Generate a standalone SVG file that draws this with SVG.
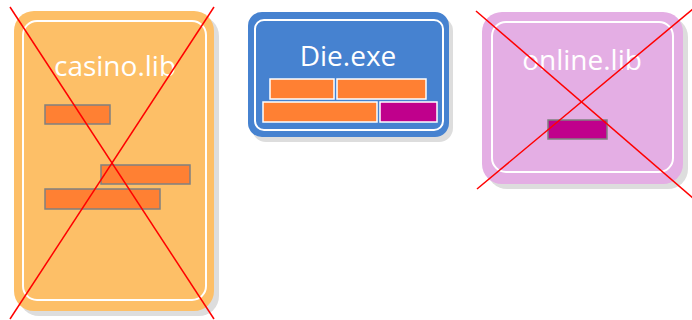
<svg xmlns="http://www.w3.org/2000/svg" width="692" height="320" viewBox="0 0 692 320">
<style>
.shadow{fill:#dddddd}
.inner{fill:none;stroke:#ffffff;stroke-width:2}
.title{font-family:"Open Sans",sans-serif;font-size:28px;font-weight:400;fill:#ffffff;text-anchor:middle}
.bar{fill:#ff8033;stroke:#808080;stroke-width:1.5}
.bar-w{fill:#ff8033;stroke:#ffffff;stroke-width:1.5}
.mag{fill:#c0008c;stroke:#808080;stroke-width:1.5}
.mag-w{fill:#c0008c;stroke:#ffffff;stroke-width:1.5}
.cross{stroke:#ff0000;stroke-width:1.5;fill:none}
</style>
<g id="casino">
<rect class="shadow" x="19" y="16" width="200" height="300" rx="20"/>
<rect x="14" y="11" width="200" height="300" rx="20" fill="#fdbf67"/>
<rect class="inner" x="23" y="21" width="183" height="279" rx="14"/>
<text class="title" x="115" y="76">casino.lib</text>
<rect class="bar" x="45" y="105" width="65" height="19"/>
<rect class="bar" x="101" y="165" width="89" height="19"/>
<rect class="bar" x="45" y="189" width="115" height="20"/>
<line class="cross" x1="10" y1="7" x2="214" y2="319"/>
<line class="cross" x1="214" y1="7" x2="10" y2="319"/>
</g>
<g id="die">
<rect class="shadow" x="252" y="17" width="201" height="125" rx="14"/>
<rect x="248" y="12" width="201" height="125" rx="14" fill="#4682d0"/>
<rect class="inner" x="255" y="20" width="188" height="110" rx="9"/>
<text class="title" x="348" y="66">Die.exe</text>
<rect class="bar-w" x="270" y="79" width="64" height="20"/>
<rect class="bar-w" x="337" y="79" width="89" height="20"/>
<rect class="bar-w" x="263" y="102" width="114" height="20"/>
<rect class="mag-w" x="380" y="102" width="57" height="20"/>
</g>
<g id="online">
<rect class="shadow" x="487" y="17" width="201" height="172" rx="20"/>
<rect x="482" y="12" width="201" height="172" rx="20" fill="#e4aee4"/>
<rect class="inner" x="492" y="22" width="181" height="150" rx="14"/>
<text class="title" x="582" y="70">online.lib</text>
<rect class="mag" x="548" y="120" width="59" height="19"/>
<line class="cross" x1="476" y1="11" x2="694" y2="199"/>
<line class="cross" x1="477" y1="189" x2="694" y2="8"/>
</g>
<g id="connectors"/>
</svg>
